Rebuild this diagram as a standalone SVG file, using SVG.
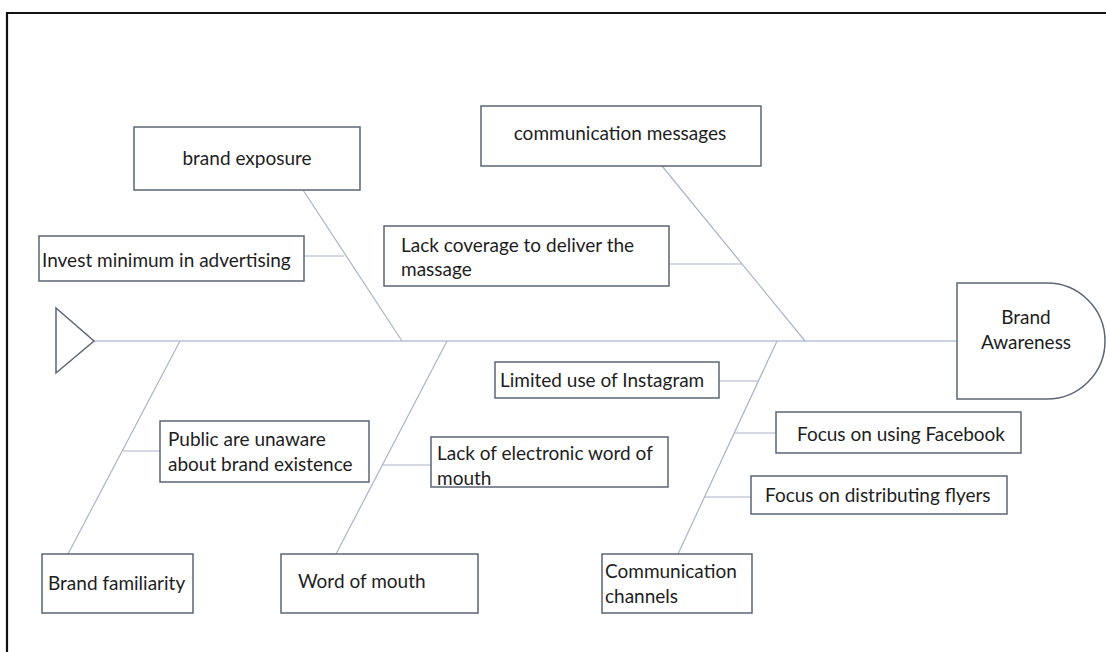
<svg xmlns="http://www.w3.org/2000/svg" width="1106" height="652" viewBox="0 0 1106 652">
<style>
.box{fill:#fff;stroke:#5b6576;stroke-width:1.5}
.ln{stroke:#aab3c8;stroke-width:1.2;fill:none}
.sp{stroke:#b9c1dd;stroke-width:1.5;fill:none}
text{font-family:Lato,"Open Sans",sans-serif;font-size:19px;fill:#1e1e1e}
.c{text-anchor:middle}
</style>
<rect x="0" y="0" width="1106" height="652" fill="#fff"/>
<path d="M7,700 V13 H1120" fill="none" stroke="#111" stroke-width="2.2"/>
<g id="connectors">
<line class="sp" x1="94" y1="341" x2="957" y2="341"/>
<line class="ln" x1="303" y1="190" x2="402" y2="341"/>
<line class="ln" x1="304" y1="256" x2="344" y2="256"/>
<line class="ln" x1="662" y1="166" x2="805" y2="341"/>
<line class="ln" x1="669" y1="264" x2="742" y2="264"/>
<line class="ln" x1="180" y1="341" x2="68" y2="554"/>
<line class="ln" x1="123" y1="451" x2="160" y2="451"/>
<line class="ln" x1="447" y1="341" x2="336" y2="554"/>
<line class="ln" x1="382" y1="465" x2="431" y2="465"/>
<line class="ln" x1="777" y1="341" x2="678" y2="554"/>
<line class="ln" x1="719" y1="381" x2="758" y2="381"/>
<line class="ln" x1="734" y1="433" x2="776" y2="433"/>
<line class="ln" x1="704" y1="497" x2="751" y2="497"/>
</g>
<g id="tail"><path d="M56,308 L94,341 L56,373 Z" fill="#fff" stroke="#5b6576" stroke-width="1.5"/></g>
<g id="head"><path class="box" d="M957,283 H1047 A58,58 0 0 1 1047,399 H957 Z"/><text class="c" x="1026" y="324">Brand</text><text class="c" x="1026" y="349">Awareness</text></g>
<g id="brand-exposure"><rect class="box" x="134" y="127" width="226" height="63"/><text class="c" x="247" y="165">brand exposure</text></g>
<g id="invest"><rect class="box" x="39" y="236" width="265" height="45"/><text x="42" y="267">Invest minimum in advertising</text></g>
<g id="comm-messages"><rect class="box" x="481" y="106" width="280" height="60"/><text class="c" x="620" y="140">communication messages</text></g>
<g id="lack-coverage"><rect class="box" x="384" y="226" width="285" height="60"/><text x="401" y="252">Lack coverage to deliver the</text><text x="401" y="276">massage</text></g>
<g id="public"><rect class="box" x="160" y="421" width="209" height="61"/><text x="168" y="446">Public are unaware</text><text x="168" y="471">about brand existence</text></g>
<g id="brand-familiarity"><rect class="box" x="42" y="554" width="151" height="59"/><text x="48" y="590">Brand familiarity</text></g>
<g id="word-of-mouth"><rect class="box" x="281" y="554" width="197" height="59"/><text x="298" y="588">Word of mouth</text></g>
<g id="lack-ewom"><rect class="box" x="431" y="437" width="237" height="50"/><text x="437" y="460">Lack of electronic word of</text><text x="437" y="485">mouth</text></g>
<g id="instagram"><rect class="box" x="495" y="362" width="224" height="36"/><text x="500" y="387">Limited use of Instagram</text></g>
<g id="facebook"><rect class="box" x="776" y="412" width="245" height="41"/><text x="797" y="441">Focus on using Facebook</text></g>
<g id="flyers"><rect class="box" x="751" y="476" width="256" height="38"/><text x="765" y="502">Focus on distributing flyers</text></g>
<g id="comm-channels"><rect class="box" x="602" y="554" width="150" height="59"/><text x="605" y="578">Communication</text><text x="605" y="603">channels</text></g>
</svg>
